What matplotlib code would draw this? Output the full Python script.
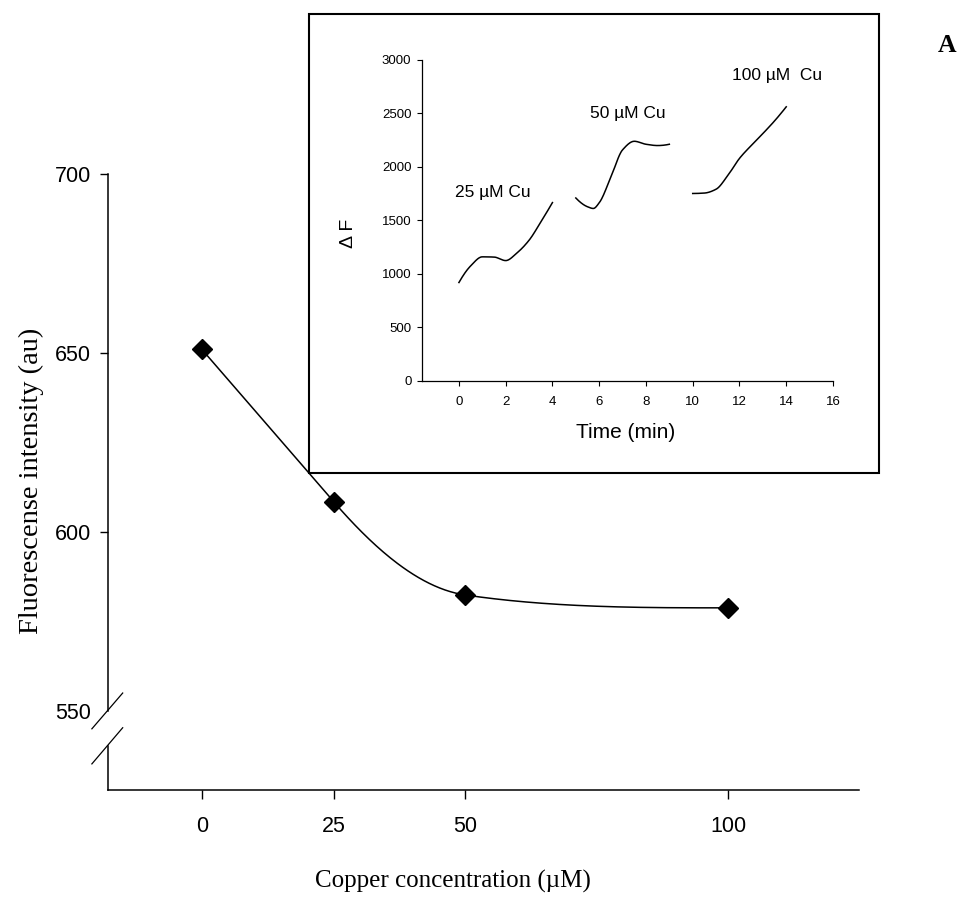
import matplotlib
matplotlib.use('Agg')
import matplotlib.pyplot as plt
from matplotlib.patches import Rectangle
import numpy as np

# main plot: fluorescence vs copper concentration
copper_um = [0, 25, 50, 100]
fluorescence = [651.0, 608.5, 582.4, 578.8]

# inset: delta F traces
t_25 = [0, 0.5, 1, 1.5, 2, 2.5, 3, 3.5, 4]
df_25 = [920, 1075, 1160, 1158, 1125, 1200, 1315, 1485, 1667]
t_50 = [5, 5.5, 5.75, 6, 6.5, 7, 7.5, 8, 8.5, 9]
df_50 = [1710, 1628, 1612, 1665, 1905, 2160, 2240, 2212, 2200, 2212]
t_100 = [10, 10.5, 11, 11.5, 12, 12.5, 13, 13.5, 14]
df_100 = [1752, 1756, 1792, 1920, 2080, 2200, 2312, 2430, 2562]

inset_labels = ['25 \u00b5M Cu', '50 \u00b5M Cu', '100 \u00b5M  Cu']
label_pos = [(-0.15, 1760), (5.6, 2500), (11.7, 2850)]


def hermite(x, y, d, xs):
    """Cubic Hermite curve through (x, y) with slopes d"""
    x = np.asarray(x, float)
    y = np.asarray(y, float)
    d = np.asarray(d, float)
    h = np.diff(x)
    xs = np.asarray(xs, float)
    k = np.clip(np.searchsorted(x, xs) - 1, 0, len(x) - 2)
    s = (xs - x[k]) / h[k]
    h00 = 2 * s**3 - 3 * s**2 + 1
    h10 = s**3 - 2 * s**2 + s
    h01 = -2 * s**3 + 3 * s**2
    h11 = s**3 - s**2
    return h00 * y[k] + h10 * h[k] * d[k] + h01 * y[k + 1] + h11 * h[k] * d[k + 1]


def pchip_slopes(x, y):
    """Slopes of a shape preserving cubic (like scipy's PCHIP)"""
    x = np.asarray(x, float)
    y = np.asarray(y, float)
    h = np.diff(x)
    delta = np.diff(y) / h
    n = len(x)
    d = np.zeros(n)
    for k in range(1, n - 1):
        if delta[k - 1] * delta[k] > 0:
            w1 = 2 * h[k] + h[k - 1]
            w2 = h[k] + 2 * h[k - 1]
            d[k] = (w1 + w2) / (w1 / delta[k - 1] + w2 / delta[k])
    for i, (h0, h1, d0, d1) in ((0, (h[0], h[1], delta[0], delta[1])),
                               (n - 1, (h[-1], h[-2], delta[-1], delta[-2]))):
        e = ((2 * h0 + h1) * d0 - h0 * d1) / (h0 + h1)
        if np.sign(e) != np.sign(d0):
            e = 0.0
        elif np.sign(d0) != np.sign(d1) and abs(e) > abs(3 * d0):
            e = 3 * d0
        d[i] = e
    return d


def main_slopes(x, y):
    # straight first segment, central difference at 50 kept monotone, flat at the end
    s0 = (y[1] - y[0]) / (x[1] - x[0])
    s2 = (y[3] - y[1]) / (x[3] - x[1])
    last = (y[3] - y[2]) / (x[3] - x[2])
    s2 = max(s2, 3 * last)
    return [s0, s0, s2, 0.0]


fig = plt.figure(figsize=(9.63, 9.00), dpi=100)

# ---- main axes ----
ax = fig.add_axes([0.1118, 0.1222, 0.7802, 0.6844])
ax.set_zorder(0)
xs = np.linspace(copper_um[0], copper_um[-1], 300)
ax.plot(xs, hermite(copper_um, fluorescence, main_slopes(copper_um, fluorescence), xs),
        color='black', lw=1.1)
ax.plot(copper_um, fluorescence, 'D', color='black', markersize=10, clip_on=False)

ax.set_xlim(-17.9, 124.8)
ax.set_ylim(527.9, 700)
ax.set_xticks(copper_um)
ax.set_yticks([550, 600, 650, 700])
for sp in ('top', 'right'):
    ax.spines[sp].set_visible(False)
ax.spines['left'].set_bounds(550, 700)
ax.spines['left'].set_linewidth(1.1)
ax.spines['bottom'].set_linewidth(1.1)
ax.tick_params(axis='both', direction='out', width=1.0, labelsize=15.5)
ax.tick_params(axis='x', length=6.5, pad=12)
ax.tick_params(axis='y', length=5.8, pad=6)
ax.yaxis.get_major_ticks()[0].tick1line.set_visible(False)
for lab in ax.get_xticklabels() + ax.get_yticklabels():
    lab.set_family('Liberation Sans')

# axis break on the y axis
yt = ax.get_yaxis_transform()
ax.plot([0, 0], [527.9, 540.2], color='black', lw=1.1, transform=yt, clip_on=False)
ax.plot([-0.021, 0.020], [545.0, 555.0], color='black', lw=0.9, transform=yt, clip_on=False)
ax.plot([-0.021, 0.020], [535.2, 545.3], color='black', lw=0.9, transform=yt, clip_on=False)

ax.set_xlabel('Copper concentration (\u00b5M)', family='Liberation Serif', fontsize=18, va='center')
ax.xaxis.set_label_coords(0.46, -0.149)
ax.set_ylabel('Fluorescense intensity (au)', family='Liberation Serif', fontsize=20.5, va='center')
ax.yaxis.set_label_coords(-0.102, 0.502)

# ---- inset frame ----
frame = Rectangle((0.3209, 0.4744), 0.5919, 0.5100, transform=fig.transFigure,
                  facecolor='white', edgecolor='black', lw=1.5, zorder=1)
fig.patches.append(frame)

# ---- inset axes ----
ins = fig.add_axes([0.4382, 0.5767, 0.4268, 0.3567])
ins.set_zorder(2)
ins.patch.set_alpha(0)
for tt, dd in ((t_25, df_25), (t_50, df_50), (t_100, df_100)):
    ts = np.linspace(tt[0], tt[-1], 200)
    ins.plot(ts, hermite(tt, dd, pchip_slopes(tt, dd), ts), color='black', lw=1.1)
for txt, (tx, ty) in zip(inset_labels, label_pos):
    ins.text(tx, ty, txt, family='Liberation Sans', fontsize=12.5, va='center', ha='left')

ins.set_xlim(-1.58, 16)
ins.set_ylim(0, 3000)
ins.set_xticks(range(0, 17, 2))
ins.set_yticks(range(0, 3001, 500))
for sp in ('top', 'right'):
    ins.spines[sp].set_visible(False)
ins.spines['left'].set_linewidth(0.9)
ins.spines['bottom'].set_linewidth(0.9)
ins.tick_params(axis='both', direction='out', length=3.6, width=0.8, labelsize=9.5)
ins.tick_params(axis='x', pad=7)
ins.tick_params(axis='y', pad=4)
for lab in ins.get_xticklabels() + ins.get_yticklabels():
    lab.set_family('Liberation Sans')
ins.set_xlabel('Time (min)', family='Liberation Sans', fontsize=15, va='center')
ins.xaxis.set_label_coords(0.496, -0.162)
ins.set_ylabel('\u0394 F', family='Liberation Sans', fontsize=14, va='center')
ins.yaxis.set_label_coords(-0.18, 0.461)

fig.text(0.9834, 0.95, 'A', family='Liberation Serif', fontweight='bold', fontsize=18.5,
         ha='center', va='center')

plt.savefig('out.png', dpi=100)
